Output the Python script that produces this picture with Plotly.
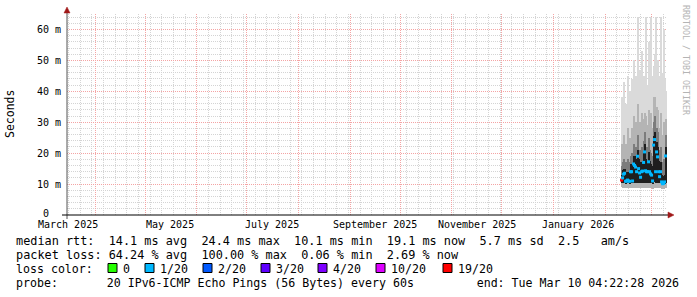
import plotly.graph_objects as go
import pandas as pd

# ---------------- data ----------------
END_TIME = "2026-03-10 04:22:28"
SPAN_DAYS = 360
DATA_START = "2026-02-10 22:00"
STEP_MIN = 864  # minutes per sample (one pixel column)

median_ms = [11.3, 12.0, 13.2, 13.5, 10.9, 11.0, 11.3, 11.0, 10.9, 14.0, 14.0, 11.0, 16.5, 16.0, 15.5,
             14.0, 19.0, 15.0, 13.6, 12.2, 14.0, 14.2, 17.0, 20.4, 14.3, 14.0, 14.0, 17.2, 14.0, 13.3,
             12.9, 11.0, 22.6, 24.4, 14.0, 20.4, 18.8, 14.0, 12.4, 14.0, 10.7, 10.1, 10.2, 10.7, 19.1]
lo_ms = [9.0, 8.8, 8.7, 8.8, 8.6, 8.7, 8.8, 8.7, 8.6, 8.8, 8.9, 8.7, 8.8, 8.9, 8.8,
         8.7, 8.9, 8.8, 8.7, 8.6, 8.8, 8.7, 8.8, 8.9, 8.8, 8.7, 8.7, 8.8, 8.7, 8.7,
         8.6, 8.5, 8.8, 8.9, 8.7, 8.8, 8.8, 8.6, 8.6, 8.7, 8.5, 8.4, 8.5, 8.6, 8.8]
p10_ms = [10.4, 10.3, 10.3, 10.4, 10.1, 10.2, 10.3, 10.2, 10.1, 10.4, 10.5, 10.2, 10.5, 10.6, 10.4,
          10.3, 10.6, 10.4, 10.3, 10.2, 10.4, 10.3, 10.4, 10.6, 10.4, 10.3, 10.3, 10.5, 10.3, 10.3,
          10.2, 10.1, 10.6, 10.7, 10.3, 10.5, 10.5, 10.2, 10.2, 10.3, 10.0, 9.9, 10.0, 10.1, 10.5]
core_ms = [13.0, 14.5, 15.0, 15.0, 13.5, 14.0, 14.0, 13.5, 13.5, 16.5, 16.5, 14.0, 19.0, 19.0, 18.0,
           17.0, 21.0, 18.0, 17.0, 15.5, 17.0, 17.5, 20.0, 23.0, 18.0, 17.5, 17.0, 20.5, 17.5, 16.5,
           16.0, 14.0, 25.5, 27.0, 18.0, 23.5, 22.0, 17.5, 15.5, 17.0, 13.0, 12.5, 12.5, 13.0, 22.0]
p80_ms = [16, 17, 18, 17, 16, 17, 18, 16, 17, 19, 20, 17, 23, 22, 22,
          20, 26, 21, 21, 19, 22, 21, 24, 27, 22, 22, 20, 25, 21, 20,
          19, 18, 30, 32, 22, 28, 27, 21, 19, 22, 17, 16, 18, 18, 26]
p90_ms = [23, 21, 26, 21, 23, 22, 28, 21, 25, 24, 28, 22, 32, 27, 30,
          25, 36, 28, 30, 25, 33, 27, 31, 33, 32, 29, 26, 34, 27, 33,
          26, 28, 38, 38, 33, 35, 34, 28, 27, 33, 26, 24, 30, 28, 31]
hi_ms = [38, 30, 43, 28, 36, 33, 45, 30, 40, 35, 44, 32, 50, 38, 45,
         36, 64, 42, 47, 38, 53, 40, 45, 36, 64, 42, 40, 56, 38, 64,
         40, 45, 48, 52, 64, 44, 50, 40, 45, 64, 46, 38, 60, 44, 40]
loss_of_sample = [19, 1, 1, 1, 1, 1, 1, 1, 1, 1, 1, 1, 1, 1, 1,
                  1, 1, 1, 1, 1, 1, 1, 1, 1, 1, 1, 1, 1, 1, 1,
                  1, 1, 1, 1, 1, 1, 1, 1, 1, 1, 1, 1, 1, 1, 1]

loss_keys = [0, 1, 2, 3, 4, 10, 19]
loss_labels = ["0", "1/20", "2/20", "3/20", "4/20", "10/20", "19/20"]
loss_colors = ["#26ff00", "#00b8ff", "#0059ff", "#5e00ff", "#7e00ff", "#dd00ff", "#ff0000"]

y_tick_vals = [0, 10, 20, 30, 40, 50, 60]
y_tick_text = ["0  ", "10 m", "20 m", "30 m", "40 m", "50 m", "60 m"]

x_label_dates = ["2025-03-16", "2025-05-16", "2025-07-16", "2025-09-16", "2025-11-16", "2026-01-16"]
x_label_text = ["March 2025", "May 2025", "July 2025", "September 2025", "November 2025", "January 2026"]

legend_lines = [
    "median rtt:  14.1 ms avg  24.4 ms max  10.1 ms min  19.1 ms now  5.7 ms sd  2.5   am/s",
    "packet loss: 64.24 % avg  100.00 % max  0.06 % min  2.69 % now",
    "loss color:",
    "probe:       20 IPv6-ICMP Echo Pings (56 Bytes) every 60s         end: Tue Mar 10 04:22:28 2026",
]

# ---------------- layout geometry ----------------
W, H = 697, 297
L, R, T, B = 67, 30, 14, 82
PW, PH = W - L - R, H - T - B
MONO = "DejaVu Sans Mono"


def px(xp):
    return (xp - L) / PW


def py(yp):
    return (T + PH - yp) / PH


def nb(s):
    return s.replace(" ", "\u00a0")


end_t = pd.Timestamp(END_TIME)
start_t = end_t - pd.Timedelta(days=SPAN_DAYS)
t = pd.date_range(DATA_START, periods=len(median_ms), freq=f"{STEP_MIN}min")
bar_w = STEP_MIN * 60 * 1000

fig = go.Figure()
bands = [(lo_ms, hi_ms, "#dadada"), (lo_ms, p90_ms, "#b4b4b4"),
         (p10_ms, p80_ms, "#7c7c7c"), (p10_ms, core_ms, "#1e1e1e")]
for lo, hi, col in bands:
    fig.add_trace(go.Bar(x=t, base=lo, y=[h - l for h, l in zip(hi, lo)], width=bar_w,
                         marker=dict(color=col, line=dict(width=0)), hoverinfo="skip",
                         showlegend=False))

cmap = dict(zip(loss_keys, loss_colors))
fig.add_trace(go.Scatter(x=t, y=median_ms, mode="markers",
                         marker=dict(symbol="square", size=3, color=[cmap[k] for k in loss_of_sample],
                                     line=dict(width=0)),
                         showlegend=False, hoverinfo="skip"))

month_starts = pd.date_range("2025-04-01", "2026-03-01", freq="MS")

fig.update_layout(
    width=W, height=H, autosize=False,
    margin=dict(l=L, r=R, t=T, b=B, pad=0),
    paper_bgcolor="white", plot_bgcolor="white",
    barmode="overlay", bargap=0,
    showlegend=False,
    font=dict(family=MONO, size=10, color="black"),
    xaxis=dict(range=[start_t, end_t], type="date",
               tickmode="array", tickvals=list(month_starts), showticklabels=False, ticks="",
               showgrid=True, gridcolor="#f4a4a4", griddash="1px,1px", gridwidth=1,
               minor=dict(dtick=7 * 86400000, tick0="2025-03-23", showgrid=True,
                          gridcolor="#d4d4d4", griddash="1px,1px", gridwidth=1, ticks=""),
               zeroline=False, showline=False, fixedrange=True),
    yaxis=dict(range=[0, 65], tickmode="array", tickvals=y_tick_vals, showticklabels=False,
               ticks="",
               showgrid=True, gridcolor="#f4a4a4", griddash="1px,1px", gridwidth=1,
               minor=dict(dtick=2, showgrid=True, gridcolor="#d4d4d4", griddash="1px,1px",
                          gridwidth=1, ticks=""),
               zeroline=False, showline=False, fixedrange=True),
)

ann = []
for v, txt in zip(y_tick_vals, y_tick_text):
    ann.append(dict(x=px(62), xref="paper", y=v, yref="y", text=nb(txt), showarrow=False,
                    xanchor="right", yanchor="middle", borderpad=0, yshift=2 if v == 0 else 0,
                    font=dict(family=MONO, size=10, color="black")))
for d, txt in zip(x_label_dates, x_label_text):
    ann.append(dict(x=d, xref="x", y=py(224.5), yref="paper", text=nb(txt), showarrow=False,
                    xanchor="center", yanchor="middle", borderpad=0,
                    font=dict(family=MONO, size=10, color="black")))

ann.append(dict(x=px(10), y=py(114), xref="paper", yref="paper", text="Seconds", textangle=-90,
                showarrow=False, xanchor="center", yanchor="middle",
                font=dict(family=MONO, size=11.5, color="black")))
ann.append(dict(x=px(686), y=py(60), xref="paper", yref="paper", text=nb("RRDTOOL / TOBI OETIKER"),
                textangle=90, showarrow=False, xanchor="center", yanchor="middle",
                font=dict(family=MONO, size=8.3, color="#b4b4b4")))

line_y = [241, 255, 269, 283]
line_size = [11.85, 11.85, 11.6, 11.6]
for txt, yy, fs in zip(legend_lines, line_y, line_size):
    ann.append(dict(x=px(15), y=py(yy), xref="paper", yref="paper", text=nb(txt), showarrow=False,
                    xanchor="left", yanchor="middle", borderpad=0,
                    font=dict(family=MONO, size=fs, color="black")))

box_left = [108, 145, 203, 261, 318, 376, 443]
shapes = []
for bx, lab, col in zip(box_left, loss_labels, loss_colors):
    shapes.append(dict(type="rect", xref="paper", yref="paper",
                       x0=px(bx), x1=px(bx + 9), y0=py(272.5), y1=py(263.5),
                       fillcolor=col, line=dict(color="black", width=1)))
    ann.append(dict(x=px(bx + 14), y=py(269), xref="paper", yref="paper", text=lab, showarrow=False,
                    xanchor="left", yanchor="middle", borderpad=0,
                    font=dict(family=MONO, size=11.6, color="black")))

# axes lines and arrows
shapes.append(dict(type="line", xref="paper", yref="paper", x0=px(67), x1=px(67), y0=py(219), y1=py(10),
                   line=dict(color="#555555", width=1)))
shapes.append(dict(type="line", xref="paper", yref="paper", x0=px(62), x1=px(670), y0=py(215), y1=py(215),
                   line=dict(color="black", width=1)))
arrow_col = "#a01818"
shapes.append(dict(type="path", xref="paper", yref="paper",
                   path=f"M {px(64)} {py(13)} L {px(70)} {py(13)} L {px(67)} {py(7)} Z",
                   fillcolor=arrow_col, line=dict(color=arrow_col, width=0.5)))
shapes.append(dict(type="path", xref="paper", yref="paper",
                   path=f"M {px(668)} {py(212)} L {px(668)} {py(218)} L {px(674)} {py(215)} Z",
                   fillcolor=arrow_col, line=dict(color=arrow_col, width=0.5)))

fig.update_layout(annotations=ann, shapes=shapes)
fig.write_html("out.html")
